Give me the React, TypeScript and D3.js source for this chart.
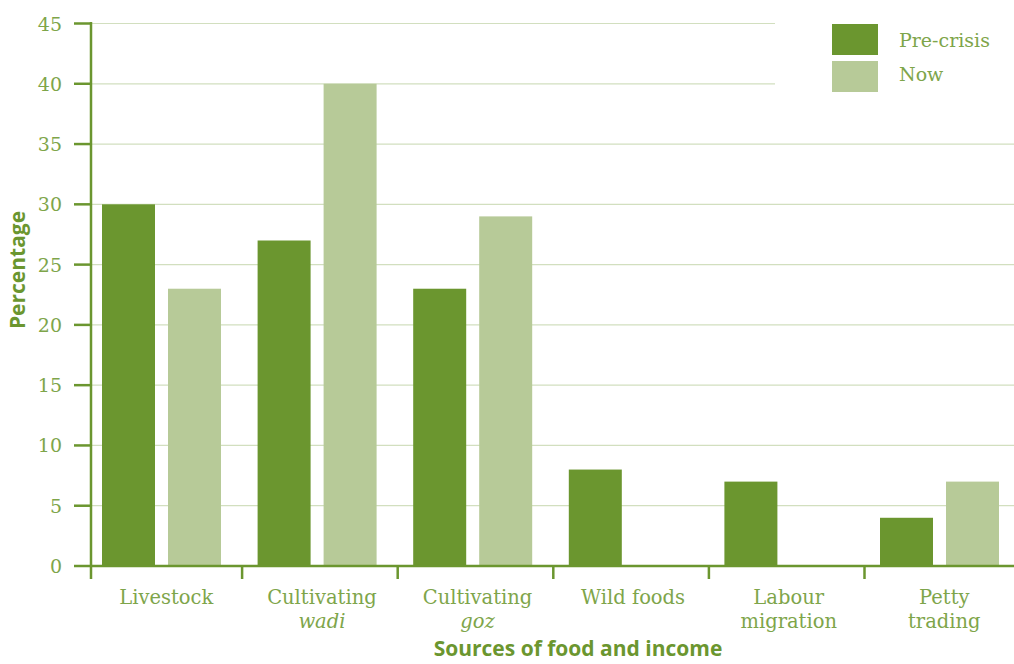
import React from "react";
import * as d3 from "d3";

const categories = ["Livestock", "Cultivating wadi", "Cultivating goz", "Wild foods", "Labour migration", "Petty trading"];
const labelLine1 = ["Livestock", "Cultivating", "Cultivating", "Wild foods", "Labour", "Petty"];
const labelLine2 = ["", "wadi", "goz", "", "migration", "trading"];
const line2Italic = [false, true, true, false, false, false];
const preCrisis = [30, 27, 23, 8, 7, 4];
const now = [23, 40, 29, 0, 0, 7];
const yTicks = [0, 5, 10, 15, 20, 25, 30, 35, 40, 45];
const seriesNames = ["Pre-crisis", "Now"];

const DARK = "#6b962f";
const LIGHT = "#b7ca98";
const TEXT = "#7ea54a";
const GRID = "#d2dfbf";
const FONT = "'DejaVu Serif', serif";
const BOLD = "'Open Sans', sans-serif";

export default function App() {
  const W = 1014, H = 664;
  const axisX = 91;
  const x = d3.scaleBand<string>().domain(categories).range([86.5, 86.5 + 6 * 155.6]);
  const y = d3.scaleLinear().domain([0, 45]).range([566, 23.5]);
  const bw = 53;
  const off1 = 15.5;
  const off2 = 81.5;

  return (
    <svg width={W} height={H} style={{ position: "absolute", left: 0, top: 0, background: "#fff" }}>
      {yTicks.map((t) => (
        <line key={"g" + t} x1={axisX} x2={W} y1={y(t)} y2={y(t)} stroke={GRID} strokeWidth={1.2} />
      ))}
      <rect x={775} y={8} width={W - 775} height={92} fill="#fff" />
      {categories.map((c, i) => (
        <g key={c}>
          {preCrisis[i] > 0 && (
            <rect x={x(c)! + off1} y={y(preCrisis[i])} width={bw} height={y(0) - y(preCrisis[i])} fill={DARK} />
          )}
          {now[i] > 0 && (
            <rect x={x(c)! + off2} y={y(now[i])} width={bw} height={y(0) - y(now[i])} fill={LIGHT} />
          )}
        </g>
      ))}
      <line x1={axisX} x2={axisX} y1={22} y2={579} stroke={DARK} strokeWidth={2.5} />
      <line x1={axisX} x2={W} y1={y(0)} y2={y(0)} stroke={DARK} strokeWidth={2.5} />
      {yTicks.map((t) => (
        <g key={"t" + t}>
          <line x1={74} x2={axisX} y1={y(t)} y2={y(t)} stroke={DARK} strokeWidth={2.5} />
          <text x={62} y={y(t) + 7} textAnchor="end" fontFamily={FONT} fontSize={19} fill={TEXT}>
            {t}
          </text>
        </g>
      ))}
      {categories.slice(1).map((c) => (
        <line key={"xt" + c} x1={x(c)!} x2={x(c)!} y1={y(0)} y2={579} stroke={DARK} strokeWidth={2.5} />
      ))}
      {categories.map((c, i) => {
        const cx = x(c)! + x.bandwidth() / 2 + 2;
        return (
          <g key={"l" + c}>
            <text x={cx} y={604} textAnchor="middle" fontFamily={FONT} fontSize={19.5} fill={TEXT}>
              {labelLine1[i]}
            </text>
            {labelLine2[i] && (
              <text x={cx} y={628} textAnchor="middle" fontFamily={FONT} fontSize={19.5} fill={TEXT} fontStyle={line2Italic[i] ? "italic" : "normal"}>
                {labelLine2[i]}
              </text>
            )}
          </g>
        );
      })}
      <text x={578} y={656} textAnchor="middle" fontFamily={BOLD} fontWeight="bold" fontSize={21} fill={DARK}>
        Sources of food and income
      </text>
      <text transform="translate(25,270) rotate(-90)" textAnchor="middle" fontFamily={BOLD} fontWeight="bold" fontSize={21} fill={DARK}>
        Percentage
      </text>
      {seriesNames.map((s, i) => (
        <g key={s}>
          <rect x={832} y={24 + i * 37} width={46} height={31} fill={i === 0 ? DARK : LIGHT} />
          <text x={899} y={47 + i * 34} fontFamily={FONT} fontSize={19} fill={TEXT}>
            {s}
          </text>
        </g>
      ))}
    </svg>
  );
}
